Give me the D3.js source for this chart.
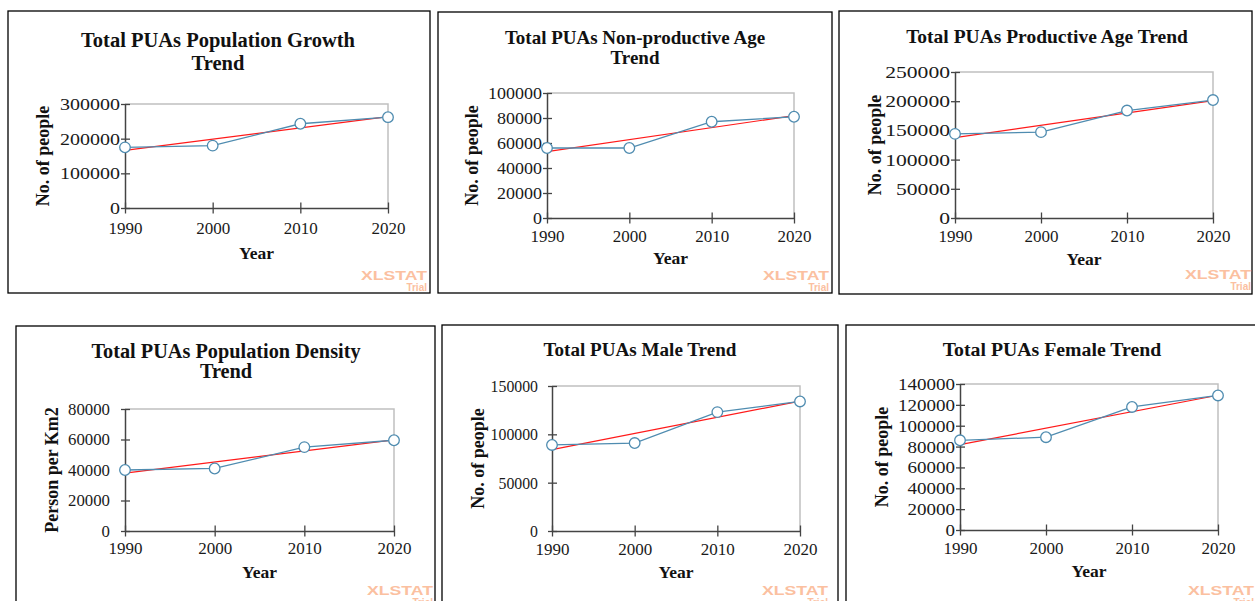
<!DOCTYPE html>
<html><head><meta charset="utf-8">
<script src="https://cdn.jsdelivr.net/npm/d3@7"></script>
<style>body{margin:0;background:#fff;overflow:hidden} svg{display:block}</style>
</head><body><svg id="c" width="1255" height="601"></svg>
<script>
// ---- data ----
const years = [1990, 2000, 2010, 2020];
const populationGrowth = [175000, 180000, 243000, 262000];
const nonProductiveAge = [56000, 56000, 77000, 81000];
const productiveAge = [144000, 147000, 184000, 202000];
const populationDensity = [40000, 41000, 55000, 59500];
const maleTrend = [89000, 91000, 123000, 134000];
const femaleTrend = [86000, 89000, 118000, 129000];

const chartTitles = [
  ["Total PUAs Population Growth", "Trend"],
  ["Total PUAs Non-productive Age", "Trend"],
  ["Total PUAs Productive Age Trend"],
  ["Total PUAs Population Density", "Trend"],
  ["Total PUAs Male Trend"],
  ["Total PUAs Female Trend"]
];
const yAxisTitles = ["No. of people", "No. of people", "No. of people", "Person per Km2", "No. of people", "No. of people"];
const xAxisTitle = "Year";
const yMaxes = [300000, 100000, 250000, 80000, 150000, 140000];
const ySteps = [100000, 20000, 50000, 20000, 50000, 20000];
const seriesList = [populationGrowth, nonProductiveAge, productiveAge, populationDensity, maleTrend, femaleTrend];

// ---- layout (positions / sizes only) ----
const layout = [
  {box:[8,11,430,293],  plot:[125,104,388,208], tcx:218,  tys:[47,70],   tsz:20.5, ylx:49,  yearY:259, tickY:234, wmR:427,  wmY:280, pad:5,  dw:10},
  {box:[438,12,832,293],plot:[547,93,794,218],  tcx:635,  tys:[44,64],   tsz:19,   ylx:478, yearY:264, tickY:242, wmR:829,  wmY:280, pad:5,  dw:9},
  {box:[839,11,1252,294],plot:[955,72,1213,218],tcx:1047, tys:[43],      tsz:19.5, ylx:881, yearY:265, tickY:242, wmR:1251, wmY:279, pad:5,  dw:10.8},
  {box:[16,326,435,700],plot:[125,409,394,531], tcx:226,  tys:[358,378], tsz:20.3, ylx:58,  yearY:578, tickY:554, wmR:433,  wmY:595, pad:15, dw:8.4},
  {box:[442,325,838,700],plot:[552,386,800,531],tcx:640,  tys:[356],     tsz:19.1, ylx:484, yearY:578, tickY:555, wmR:828,  wmY:595, pad:14, dw:7.9},
  {box:[846,325,1300,700],plot:[960,384,1218,530],tcx:1052,tys:[356],    tsz:19.8, ylx:888, yearY:577, tickY:554, wmR:1254, wmY:595, pad:5,  dw:9.5}
];

const SERIF = '"Liberation Serif","Times New Roman",serif';
const SANS = '"Liberation Sans",Arial,sans-serif';
const svg = d3.select("#c");

function linreg(xs, ys) {
  const n = xs.length, mx = d3.mean(xs), my = d3.mean(ys);
  let sxy = 0, sxx = 0;
  for (let i = 0; i < n; i++) { sxy += (xs[i]-mx)*(ys[i]-my); sxx += (xs[i]-mx)**2; }
  const b = sxy/sxx, a = my - b*mx;
  return x => a + b*x;
}

seriesList.forEach((vals, i) => {
  const L = layout[i];
  const [bx0, by0, bx1, by1] = L.box;
  const [px0, py0, px1, py1] = L.plot;
  const g = svg.append("g");

  g.append("rect").attr("x", bx0).attr("y", by0).attr("width", bx1-bx0).attr("height", by1-by0)
    .attr("fill", "#fff").attr("stroke", "#000").attr("stroke-width", 1.3);

  const x = d3.scaleLinear().domain([years[0], years[years.length-1]]).range([px0, px1]);
  const y = d3.scaleLinear().domain([0, yMaxes[i]]).range([py1, py0]);

  g.append("path").attr("d", `M${px0},${py0}H${px1}V${py1}`).attr("fill","none")
    .attr("stroke", "#c0c0c0").attr("stroke-width", 1.5);

  const ya = g.append("g").attr("transform", `translate(${px0},0)`)
    .call(d3.axisLeft(y).tickValues(d3.range(0, yMaxes[i]+1, ySteps[i])).tickSize(4).tickSizeOuter(0).tickFormat(d3.format("d")));
  ya.select(".domain").attr("stroke", "#444").attr("stroke-width", 1.5);
  ya.selectAll(".tick line").attr("stroke", "#444").attr("stroke-width", 1.3).attr("x1", 5);
  ya.selectAll(".tick text").attr("x", -L.pad).attr("dy", "0.32em")
    .attr("font-family", SERIF).attr("font-size", 17).attr("fill", "#1a1a1a")
    .each(function(d){ const s = d3.format("d")(d); d3.select(this).attr("textLength", s.length*L.dw).attr("lengthAdjust","spacingAndGlyphs"); });

  const xa = g.append("g").attr("transform", `translate(0,${py1})`)
    .call(d3.axisBottom(x).tickValues(years).tickSize(5.5).tickSizeOuter(0).tickFormat(d3.format("d")));
  xa.select(".domain").attr("stroke", "#444").attr("stroke-width", 1.5);
  xa.selectAll(".tick line").attr("stroke", "#444").attr("stroke-width", 1.3).attr("y1", -5.5);
  xa.selectAll(".tick text").attr("y", L.tickY - py1).attr("dy", 0)
    .attr("font-family", SERIF).attr("font-size", 17).attr("fill", "#1a1a1a");

  const f = linreg(years, vals);
  const x0 = years[0], x1 = years[years.length-1];
  g.append("line").attr("x1", x(x0)).attr("y1", y(f(x0))).attr("x2", x(x1)).attr("y2", y(f(x1)))
    .attr("stroke", "#ff1a1a").attr("stroke-width", 1.2);

  const line = d3.line().x((d, k) => x(years[k])).y(d => y(d));
  g.append("path").datum(vals).attr("d", line).attr("fill", "none")
    .attr("stroke", "#4f8cb0").attr("stroke-width", 1.3);
  g.selectAll("circle").data(vals).join("circle")
    .attr("cx", (d, k) => x(years[k])).attr("cy", d => y(d)).attr("r", 5.3)
    .attr("fill", "#fff").attr("stroke", "#4f8cb0").attr("stroke-width", 1.3);

  chartTitles[i].forEach((t, k) => {
    g.append("text").attr("x", L.tcx).attr("y", L.tys[k]).attr("text-anchor", "middle")
      .attr("font-family", SERIF).attr("font-weight", "bold").attr("font-size", L.tsz)
      .attr("fill", "#111").text(t);
  });
  g.append("text").attr("transform", `translate(${L.ylx},${(py0+py1)/2}) rotate(-90)`)
    .attr("text-anchor", "middle").attr("font-family", SERIF).attr("font-weight", "bold")
    .attr("font-size", 18).attr("fill", "#111").text(yAxisTitles[i]);
  g.append("text").attr("x", (px0+px1)/2).attr("y", L.yearY).attr("text-anchor", "middle")
    .attr("font-family", SERIF).attr("font-weight", "bold").attr("font-size", 17.5)
    .attr("fill", "#111").text(xAxisTitle);

  g.append("text").attr("x", L.wmR).attr("y", L.wmY).attr("text-anchor", "end")
    .attr("font-family", SANS).attr("font-weight", "bold").attr("font-size", 12.5)
    .attr("fill", "#fbc0a0").attr("textLength", 66).attr("lengthAdjust", "spacingAndGlyphs").text("XLSTAT");
  g.append("text").attr("x", L.wmR).attr("y", L.wmY + 11).attr("text-anchor", "end")
    .attr("font-family", SANS).attr("font-weight", "bold").attr("font-size", 10)
    .attr("fill", "#fbc0a0").text("Trial");
});
</script>
</body></html>
